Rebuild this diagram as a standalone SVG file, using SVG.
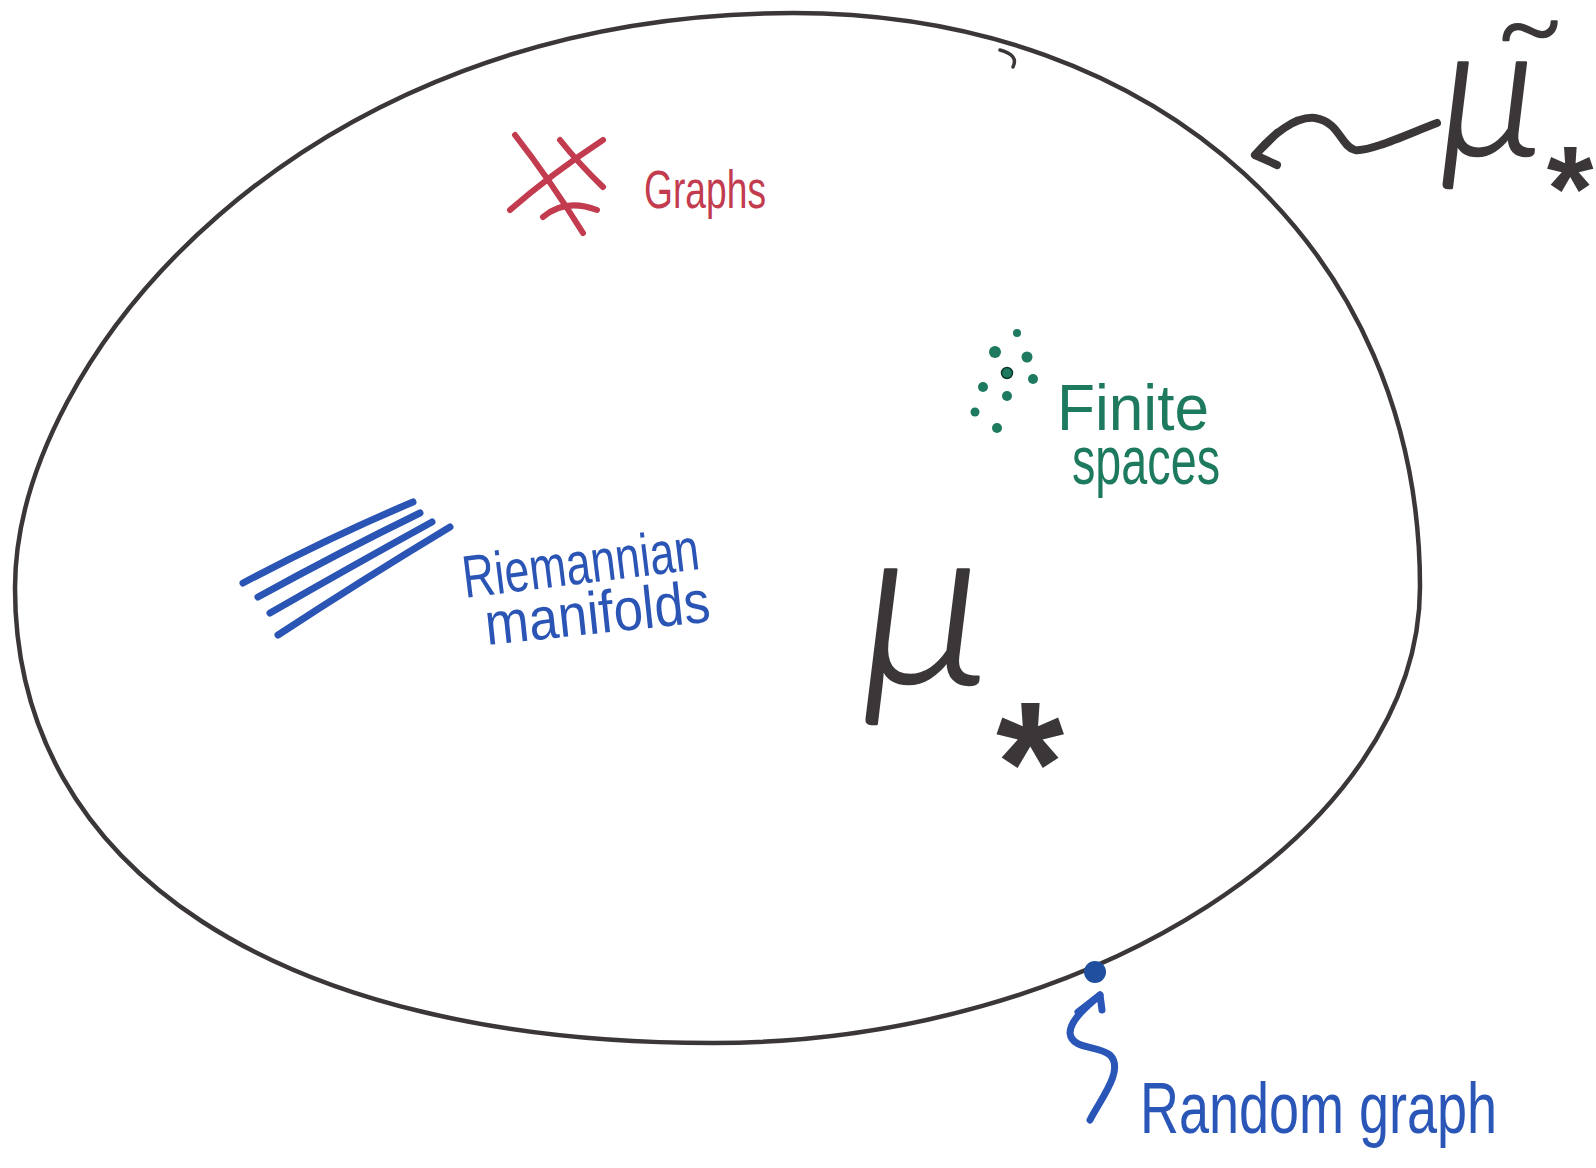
<svg xmlns="http://www.w3.org/2000/svg" width="1596" height="1168" viewBox="0 0 1596 1168">
<style>
.ink{fill:none;stroke:#3b3738;stroke-linecap:round;stroke-linejoin:round}
.red{fill:none;stroke:#c23b4e;stroke-width:6;stroke-linecap:round}
.blue{fill:none;stroke:#2b55b5;stroke-width:7;stroke-linecap:round}
.hand{font-family:"Liberation Sans","DejaVu Sans",sans-serif}
.mu{font-family:"Lato","Open Sans","DejaVu Sans",sans-serif;font-style:italic;font-weight:300;fill:#3b3738;stroke:#3b3738;stroke-width:2.5;stroke-linejoin:round}
.star{font-family:"Liberation Sans","DejaVu Sans",sans-serif;font-style:normal;font-weight:bold;fill:#3b3738;stroke:none}
.dot{fill:#1d7a5f}
</style>
<rect width="1596" height="1168" fill="#ffffff"/>
<g id="space">
<path class="ink" stroke-width="4.5" d="M793,13 C1160,13 1420,250 1420,587 C1420,830 1090,1043 713,1043 C280,1043 15,870 15,588 C15,360 300,13 793,13 Z"/>
<path class="ink" stroke-width="3.5" d="M1000,50 Q1019,55 1013,67"/>
</g>
<g id="graphs">
<path class="red" d="M515,135 Q550,180 583,233"/>
<path class="red" d="M510,210 Q550,175 603,140"/>
<path class="red" d="M560,140 Q580,165 603,187"/>
<path class="red" d="M543,217 Q565,198 597,210"/>
<text class="hand" x="644" y="208" font-size="54" fill="#c23b4e" textLength="122" lengthAdjust="spacingAndGlyphs">Graphs</text>
</g>
<g id="finite-spaces">
<circle class="dot" cx="1017" cy="333" r="4"/>
<circle class="dot" cx="995" cy="352" r="6"/>
<circle class="dot" cx="1027" cy="357" r="5.5"/>
<circle class="dot" cx="1007" cy="373" r="5.5" stroke="#0e3a2c" stroke-width="1.5"/>
<circle class="dot" cx="1033" cy="379" r="5"/>
<circle class="dot" cx="983" cy="387" r="5"/>
<circle class="dot" cx="1007" cy="396" r="5"/>
<circle class="dot" cx="975" cy="412" r="4.5"/>
<circle class="dot" cx="997" cy="428" r="5"/>
<text class="hand" font-size="64" fill="#1d7a5f"><tspan x="1057" y="430" textLength="152" lengthAdjust="spacingAndGlyphs">Finite</tspan><tspan x="1072" y="484" font-size="68" textLength="148" lengthAdjust="spacingAndGlyphs">spaces</tspan></text>
</g>
<g id="riemannian-manifolds">
<path class="blue" d="M243,583 Q330,537 413,502"/>
<path class="blue" d="M258,597 Q340,552 420,513"/>
<path class="blue" d="M270,613 Q352,566 432,522"/>
<path class="blue" d="M278,635 Q362,580 450,527"/>
<text class="hand" x="465" y="598" font-size="60" fill="#2b55b5" textLength="238" lengthAdjust="spacingAndGlyphs" transform="rotate(-7 465 598)">Riemannian</text>
<text class="hand" x="487" y="645" font-size="60" fill="#2b55b5" textLength="226" lengthAdjust="spacingAndGlyphs" transform="rotate(-6 487 645)">manifolds</text>
</g>
<g id="mu-star">
<text class="mu" x="862" y="684" font-size="230">μ<tspan class="star" x="1030" y="823" font-size="175" text-anchor="middle">*</tspan></text>
</g>
<g id="mu-tilde-star">
<text class="mu" x="1440" y="155" font-size="185">μ<tspan x="1530" y="66" font-size="120" text-anchor="middle">~</tspan><tspan class="star" x="1570" y="230" font-size="120" text-anchor="middle">*</tspan></text>
</g>
<g id="random-graph">
<circle cx="1095" cy="972" r="11" fill="#1f4f9e"/>
<text class="hand" x="1140" y="1133" font-size="72" fill="#2a56b8" textLength="357" lengthAdjust="spacingAndGlyphs">Random graph</text>
</g>
<g id="connectors">
<path class="ink" stroke-width="8" d="M1437,123 C1410,133 1370,152 1355,150 C1340,146 1340,122 1315,118 C1295,116 1272,135 1255,155"/>
<path class="ink" stroke-width="8" d="M1277,133 L1255,155 L1277,165"/>
<path fill="none" stroke="#2a56b8" stroke-width="7" stroke-linecap="round" stroke-linejoin="round" d="M1090,1120 C1100,1100 1125,1070 1110,1055 C1098,1045 1072,1050 1070,1033 C1070,1020 1088,1005 1100,995"/>
<path fill="none" stroke="#2a56b8" stroke-width="7" stroke-linecap="round" stroke-linejoin="round" d="M1078,1012 L1100,995 L1102,1010"/>
</g>
</svg>
